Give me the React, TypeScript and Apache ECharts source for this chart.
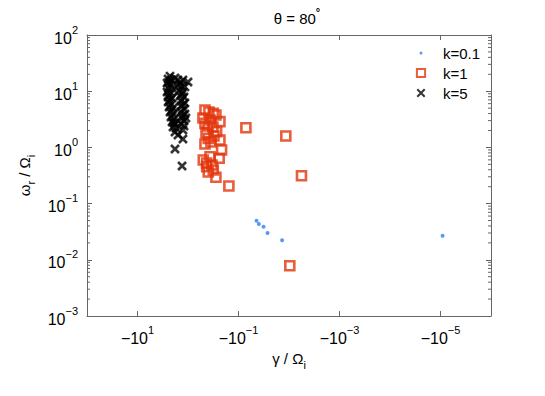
import React, { useEffect, useRef } from "react";
import * as echarts from "echarts";

// |gamma| / Omega_i (gamma is negative), omega_r / Omega_i
const k01Gamma = [0.0439, 0.0395, 0.0319, 0.0266, 0.01368, 0.0000091];
const k01Omega = [0.0497, 0.0434, 0.0388, 0.030, 0.0222, 0.0268];

const k1Gamma = [0.0714, 0.01157, 0.00566, 0.00964, 0.155, 0.28, 0.316, 0.427, 0.499, 0.367, 0.241, 0.216, 0.233, 0.397, 0.271, 0.461, 0.233, 0.316, 0.461, 0.506, 0.367, 0.403, 0.321, 0.44, 0.306, 0.351, 0.461, 0.385, 0.28, 0.427, 0.334, 0.397];
const k1Omega = [2.24, 1.6, 0.313, 0.00785, 0.206, 0.294, 0.396, 0.454, 0.597, 0.683, 0.64, 0.9, 1.355, 1.45, 1.9, 2.68, 2.87, 4.04, 4.63, 3.33, 3.07, 2.40, 2.31, 1.80, 1.60, 1.25, 1.15, 4.27, 3.77, 0.527, 0.486, 0.365];

const k5Gamma = [2.27, 2.48, 2.17, 2.60, 2.27, 2.48, 2.07, 2.60, 2.17, 2.48, 2.07, 2.48, 2.17, 2.37, 1.98, 2.27, 1.98, 2.17, 1.89, 2.07, 1.81, 1.98, 1.73,
  2.37, 2.37, 2.27, 2.07, 1.89,
  1.81, 1.58, 1.26, 1.0, 1.58, 1.38, 1.15, 1.51, 1.26, 1.44, 1.20, 1.38, 1.15, 1.38, 1.20, 1.38, 1.15, 1.31, 1.20, 1.38, 1.20, 1.26,
  1.44, 1.31, 1.26, 1.31, 1.10,
  1.81, 1.58, 1.26, 1.81, 1.31];
const k5Omega = [18.6, 16.5, 15.8, 14.0, 12.9, 11.4, 11.4, 9.68, 9.29, 7.88, 7.57, 6.43, 5.92, 5.24, 5.02, 4.26, 3.93, 3.47, 3.20, 2.83, 2.61, 2.31, 2.21,
  14.6, 8.55, 6.97, 4.62, 2.72,
  17.2, 15.8, 15.8, 14.6, 12.9, 12.4, 11.9, 10.1, 9.68, 8.22, 7.88, 6.70, 6.17, 5.46, 4.82, 4.26, 3.93, 3.33, 2.95, 2.61, 2.40, 2.04,
  14.0, 8.91, 5.68, 3.62, 3.33,
  1.88, 1.66, 1.41, 0.937, 0.467];

const seriesNames = ["k=0.1", "k=1", "k=5"];
const xTickValues = [10, 0.1, 0.001, 0.00001];
const minorMultipliers = [2, 3, 4, 5, 6, 7, 8, 9];
const minorDecades = [0.001, 0.01, 0.1, 1, 10];

const pair = (g: number[], o: number[]) => g.map((v, i) => [v, o[i]]);
const minorTickValues = minorDecades.flatMap((d) => minorMultipliers.map((m) => m * d));

const expStr = (v: number) => {
  const e = Math.round(Math.log10(v));
  return e < 0 ? "\u2212" + Math.abs(e) : String(e);
};

const FONT = "Liberation Sans, Arial, Helvetica, sans-serif";
const AXIS_COLOR = "#666";
const RED = "#e2340a";
const BLUE = "#2f80f0";
const XPATH = "path://M0,0L10,10M10,0L0,10";

const richLabel = {
  b: { fontSize: 16, fontFamily: FONT, color: "#000", lineHeight: 22, verticalAlign: "bottom" },
  s: { fontSize: 11, fontFamily: FONT, color: "#000", lineHeight: 11, verticalAlign: "top" },
};

export default function App() {
  const ref = useRef<HTMLDivElement>(null);
  useEffect(() => {
    if (!ref.current) return;
    const chart = echarts.init(ref.current, null, { renderer: "svg" });
    const xCommon = {
      type: "log",
      inverse: true,
      min: 1e-6,
      max: 1e2,
      axisLine: { show: true, onZero: false, lineStyle: { color: AXIS_COLOR, width: 1 } },
      splitLine: { show: false },
    };
    const yCommon = {
      type: "log",
      min: 1e-3,
      max: 1e2,
      axisLine: { show: true, onZero: false, lineStyle: { color: AXIS_COLOR, width: 1 } },
      axisTick: { show: true, inside: true, length: 5, lineStyle: { color: AXIS_COLOR } },
      splitLine: { show: false },
    };
    chart.setOption({
      animation: false,
      backgroundColor: "#fff",
      title: {
        text: "{t|\u03b8 = 80}{s|\u00b0}",
        left: 292,
        textAlign: "center",
        top: 1,
        textStyle: {
          rich: {
            t: { fontSize: 15, fontFamily: FONT, color: "#000", fontWeight: "normal", lineHeight: 20, verticalAlign: "bottom" },
            s: { fontSize: 11, fontFamily: FONT, color: "#000", lineHeight: 10, verticalAlign: "top" },
          },
        },
      },
      grid: { left: 87, right: 54, top: 35, bottom: 80, containLabel: false },
      legend: {
        orient: "vertical",
        left: 398,
        top: 39,
        itemWidth: 34,
        itemHeight: 9,
        itemGap: 2,
        textStyle: { fontSize: 15, fontFamily: FONT, color: "#000", lineHeight: 18 },
        data: [
          { name: seriesNames[0], icon: "path://M0,0M34,9M15.5,4.5a1.5,1.5 0 1,0 3,0a1.5,1.5 0 1,0 -3,0z" },
          { name: seriesNames[1], icon: "path://M0,0M34,9M12.9,0.4h8.2v8.2h-8.2z" },
          { name: seriesNames[2], icon: "path://M0,0M34,9M13.3,0.8L20.7,8.2M20.7,0.8L13.3,8.2" },
        ],
      },
      xAxis: [
        {
          ...xCommon,
          position: "bottom",
          name: "{g|\u03b3 / \u03a9}{i|i}",
          nameLocation: "middle",
          nameGap: 26,
          nameTextStyle: {
            rich: {
              g: { fontSize: 15, fontFamily: FONT, color: "#000", lineHeight: 20, verticalAlign: "top" },
              i: { fontSize: 11, fontFamily: FONT, color: "#000", lineHeight: 10, verticalAlign: "bottom" },
            },
          },
          axisTick: { show: true, inside: true, length: 5, customValues: xTickValues, lineStyle: { color: AXIS_COLOR } },
          axisLabel: {
            show: true,
            customValues: xTickValues,
            margin: 8,
            formatter: (v: number) => `{b|\u221210}{s|${expStr(v)}}`,
            rich: richLabel,
          },
        },
        {
          ...xCommon,
          position: "top",
          axisTick: { show: true, inside: true, length: 5, customValues: xTickValues, lineStyle: { color: AXIS_COLOR } },
          axisLabel: { show: false, customValues: xTickValues },
        },
      ],
      yAxis: [
        {
          ...yCommon,
          position: "left",
          name: "{w|\u03c9}{r|r}{w| / \u03a9}{r|i}",
          nameLocation: "middle",
          nameRotate: 90,
          nameGap: 46,
          nameTextStyle: {
            rich: {
              w: { fontSize: 15, fontFamily: FONT, color: "#000", lineHeight: 20, verticalAlign: "top" },
              r: { fontSize: 11, fontFamily: FONT, color: "#000", lineHeight: 10, verticalAlign: "bottom" },
            },
          },
          axisLabel: {
            show: true,
            margin: 9,
            formatter: (v: number) => `{b|10}{s|${expStr(v)}}`,
            rich: richLabel,
          },
        },
        {
          ...yCommon,
          position: "right",
          axisLabel: { show: false },
        },
      ],
      series: [
        {
          name: "minorTicks",
          type: "custom",
          silent: true,
          clip: false,
          data: minorTickValues.map((v) => [1e2, v]),
          renderItem: (params: any, api: any) => {
            const v = api.value(1);
            const left = api.coord([1e2, v]);
            const right = api.coord([1e-6, v]);
            const style = { stroke: AXIS_COLOR, lineWidth: 1 };
            return {
              type: "group",
              children: [
                { type: "line", shape: { x1: left[0], y1: left[1], x2: left[0] + 3, y2: left[1] }, style },
                { type: "line", shape: { x1: right[0], y1: right[1], x2: right[0] - 3, y2: right[1] }, style },
              ],
            };
          },
          z: 1,
        },
        {
          name: seriesNames[0],
          type: "scatter",
          data: pair(k01Gamma, k01Omega),
          symbol: "circle",
          symbolSize: 4,
          itemStyle: { color: BLUE },
          z: 5,
        },
        {
          name: seriesNames[1],
          type: "scatter",
          data: pair(k1Gamma, k1Omega),
          symbol: "rect",
          symbolSize: 9,
          itemStyle: { color: "rgba(0,0,0,0)", borderColor: RED, borderWidth: 2.6 },
          z: 3,
        },
        {
          name: seriesNames[2],
          type: "scatter",
          data: pair(k5Gamma, k5Omega),
          symbol: XPATH,
          symbolSize: 8,
          symbolKeepAspect: true,
          itemStyle: { color: "#000", borderColor: "#000", borderWidth: 2.6 },
          z: 4,
        },
      ],
    });
    return () => chart.dispose();
  }, []);
  return (
    <div
      ref={ref}
      style={{ position: "fixed", left: 0, top: 0, width: 545, height: 396, background: "#fff" }}
    />
  );
}
